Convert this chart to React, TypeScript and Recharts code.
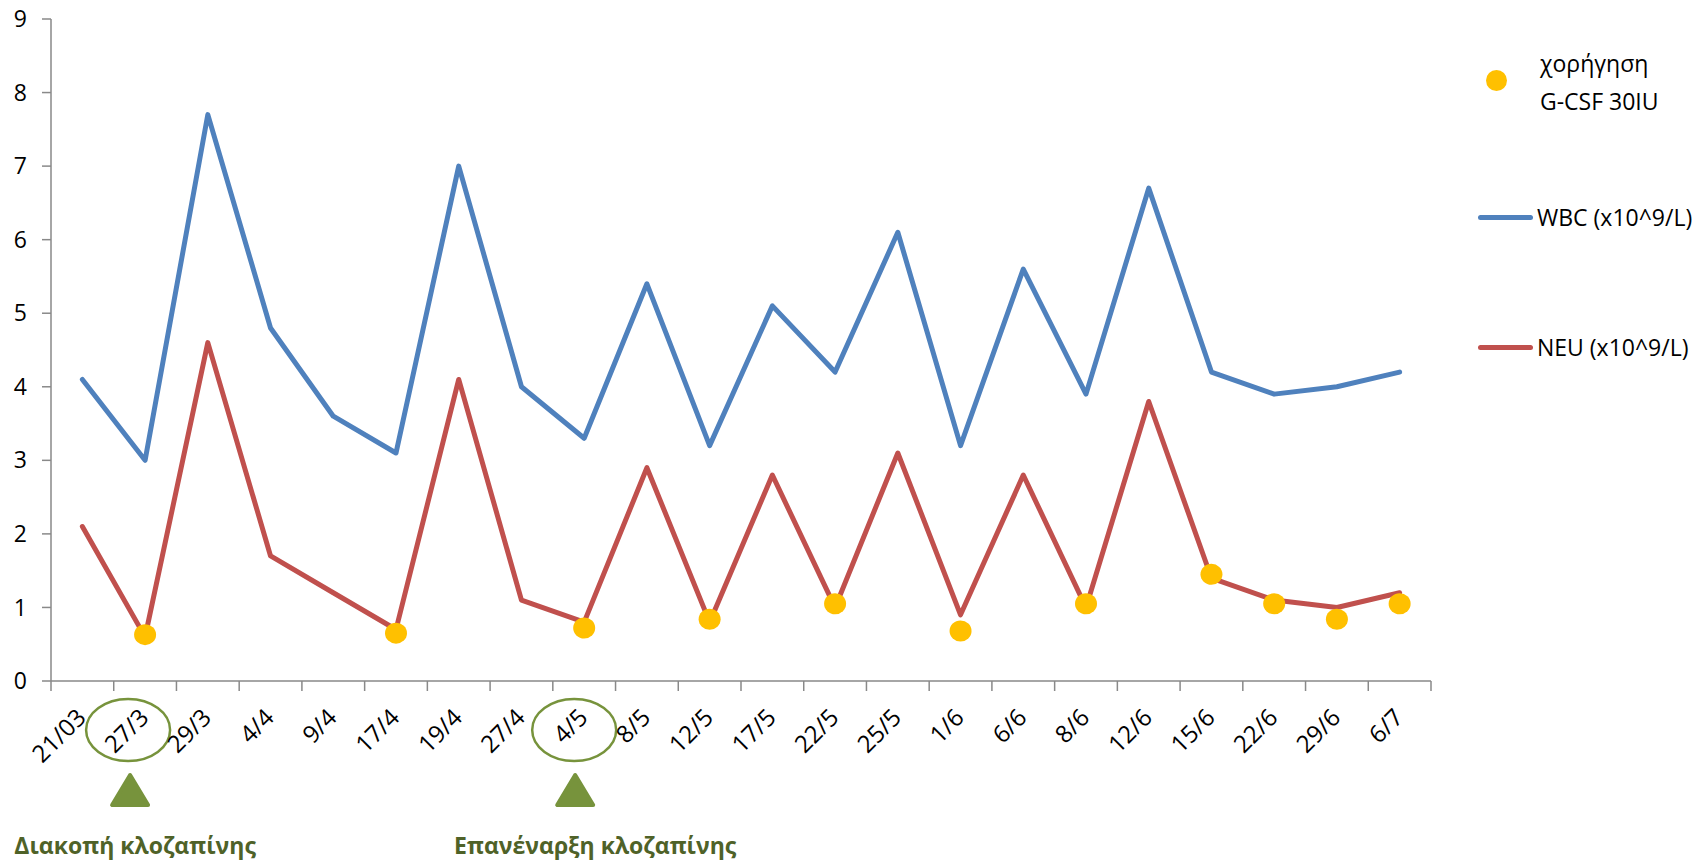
import { LineChart, Line, XAxis, YAxis } from 'recharts';

// sampling dates (x axis)
const dates = [
  '21/03', '27/3', '29/3', '4/4', '9/4', '17/4', '19/4', '27/4', '4/5', '8/5', '12/5',
  '17/5', '22/5', '25/5', '1/6', '6/6', '8/6', '12/6', '15/6', '22/6', '29/6', '6/7',
];

// WBC (x10^9/L)
const wbc = [4.1, 3.0, 7.7, 4.8, 3.6, 3.1, 7.0, 4.0, 3.3, 5.4, 3.2, 5.1, 4.2, 6.1, 3.2, 5.6, 3.9, 6.7, 4.2, 3.9, 4.0, 4.2];

// NEU (x10^9/L)
const neu = [2.1, 0.6, 4.6, 1.7, 1.2, 0.7, 4.1, 1.1, 0.8, 2.9, 0.8, 2.8, 1.0, 3.1, 0.9, 2.8, 1.0, 3.8, 1.4, 1.1, 1.0, 1.2];

// G-CSF 30IU given (marker height), null = not given
const gcsf = [
  null, 0.63, null, null, null, 0.65, null, null, 0.72, null, 0.84,
  null, 1.05, null, 0.68, null, 1.05, null, 1.45, 1.05, 0.84, 1.05,
];

const yTicks = [0, 1, 2, 3, 4, 5, 6, 7, 8, 9];

// clozapine events marked under the axis
const eventDates = ['27/3', '4/5'];
const eventCaptions = ['Διακοπή κλοζαπίνης', 'Επανέναρξη κλοζαπίνης'];

const BLUE = '#4F81BD';
const RED = '#C0504D';
const GOLD = '#FFC000';
const GREEN = '#77933C';
const DARK_GREEN = '#4F6228';
const AXIS = '#898989';
const FONT = '"Open Sans", sans-serif';

// hand placement of the ring / arrow / caption relative to the tick
const EVENT_SHIFT: Record<string, { ring: number; arrow: number; text: number }> = {
  '27/3': { ring: -17, arrow: -15, text: -10 },
  '4/5': { ring: -10, arrow: -9, text: 11 },
};

const data = dates.map((d, i) => ({ date: d, wbc: wbc[i], neu: neu[i], gcsf: gcsf[i] }));

const DateTick = (props: any) => {
  const { x, y, payload, index, width, visibleTicksCount } = props;
  const label = payload.value as string;
  // tick marks sit between categories (Excel style)
  const half = payload.offset ? payload.offset : width / visibleTicksCount / 2;
  const lx = x + 5;
  const ly = y + 38;
  const ev = eventDates.indexOf(label);
  const shift = EVENT_SHIFT[label];
  return (
    <g>
      <line x1={x - half} x2={x - half} y1={y} y2={y + 10} stroke={AXIS} strokeWidth={1.5} />
      {index === visibleTicksCount - 1 && (
        <line x1={x + half} x2={x + half} y1={y} y2={y + 10} stroke={AXIS} strokeWidth={1.5} />
      )}
      <text
        x={lx}
        y={ly}
        transform={`rotate(-45, ${lx}, ${ly})`}
        textAnchor="end"
        fontSize={24}
        fontFamily={FONT}
        fill="#000"
      >
        {label}
      </text>
      {ev >= 0 && shift && (
        <g>
          <ellipse cx={x + shift.ring} cy={y + 49} rx={42} ry={31} fill="none" stroke={GREEN} strokeWidth={2.5} />
          <polygon
            points={`${x + shift.arrow},${y + 94} ${x + shift.arrow - 18},${y + 124} ${x + shift.arrow + 18},${y + 124}`}
            fill={GREEN}
            stroke={GREEN}
            strokeWidth={4}
            strokeLinejoin="round"
          />
          <text
            x={x + shift.text}
            y={y + 173}
            textAnchor="middle"
            fontSize={23}
            fontWeight="bold"
            fontFamily={FONT}
            fill={DARK_GREEN}
          >
            {eventCaptions[ev]}
          </text>
        </g>
      )}
    </g>
  );
};

const GcsfDot = (props: any) => {
  const { cx, cy, payload, index } = props;
  if (payload.gcsf == null || cy == null) return <g key={`g-${index}`} />;
  return <ellipse key={`g-${index}`} cx={cx} cy={cy} rx={11} ry={10.5} fill={GOLD} stroke="none" />;
};

export default function App() {
  return (
    <div style={{ position: 'absolute', left: 0, top: 0, width: 1702, height: 861, background: '#fff', fontFamily: FONT }}>
      <LineChart width={1702} height={861} data={data} margin={{ top: 19, right: 271, bottom: 0, left: 0 }}>
        <XAxis
          dataKey="date"
          scale="band"
          interval={0}
          height={180}
          axisLine={{ stroke: AXIS, strokeWidth: 1.5 }}
          tickLine={false}
          tickSize={0}
          tickMargin={0}
          tick={<DateTick />}
        />
        <YAxis
          domain={[0, 9]}
          ticks={yTicks}
          width={51}
          tickSize={9}
          tickMargin={15}
          stroke={AXIS}
          axisLine={{ stroke: AXIS, strokeWidth: 1.5 }}
          tickLine={{ stroke: AXIS, strokeWidth: 1.5 }}
          tick={{ fill: '#000', fontSize: 23, fontFamily: FONT }}
        />
        <Line
          type="linear"
          dataKey="wbc"
          stroke={BLUE}
          strokeWidth={5}
          strokeLinejoin="round"
          strokeLinecap="round"
          dot={false}
          activeDot={false}
          isAnimationActive={false}
        />
        <Line
          type="linear"
          dataKey="neu"
          stroke={RED}
          strokeWidth={5}
          strokeLinejoin="round"
          strokeLinecap="round"
          dot={false}
          activeDot={false}
          isAnimationActive={false}
        />
        <Line
          type="linear"
          dataKey="gcsf"
          stroke="none"
          dot={<GcsfDot />}
          activeDot={false}
          isAnimationActive={false}
        />
      </LineChart>

      {/* legend */}
      <div style={{ position: 'absolute', left: 1486, top: 70, width: 21, height: 21, borderRadius: '50%', background: GOLD }} />
      <div style={{ position: 'absolute', left: 1540, top: 44, fontSize: 23, lineHeight: '38px', color: '#000' }}>
        χορήγηση
        <br />
        G-CSF 30IU
      </div>
      <div style={{ position: 'absolute', left: 1478, top: 215, width: 55, height: 5, borderRadius: 3, background: BLUE }} />
      <div style={{ position: 'absolute', left: 1537, top: 201, fontSize: 23, lineHeight: '32px', color: '#000' }}>
        WBC (x10^9/L)
      </div>
      <div style={{ position: 'absolute', left: 1478, top: 345, width: 55, height: 5, borderRadius: 3, background: RED }} />
      <div style={{ position: 'absolute', left: 1537, top: 331, fontSize: 23, lineHeight: '32px', color: '#000' }}>
        NEU (x10^9/L)
      </div>
    </div>
  );
}
